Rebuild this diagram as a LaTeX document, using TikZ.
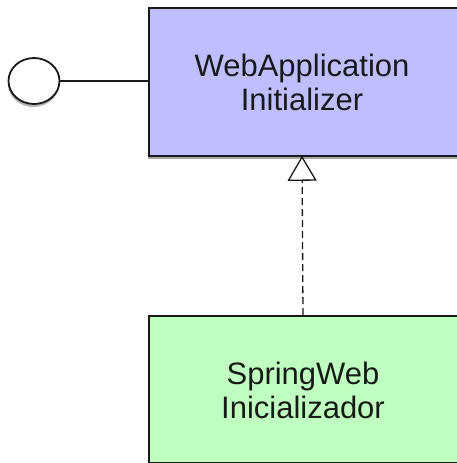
\documentclass[tikz,border=0pt]{standalone}
\usepackage{fontspec}
\setmainfont{Liberation Sans}
\usetikzlibrary{shadows,arrows.meta,shapes.geometric}
\definecolor{ifacefill}{RGB}{191,191,255}
\definecolor{implfill}{RGB}{191,255,191}
\definecolor{inkline}{RGB}{25,25,25}
\begin{document}
\begin{tikzpicture}[x=1pt,y=-1pt,
  classbox/.style={draw=inkline, line width=1.8pt, rectangle, inner sep=0pt,
    drop shadow={shadow xshift=-0.5pt, shadow yshift=-3pt, opacity=0.35, fill=black}},
  classname/.style={font=\fontsize{31}{34}\selectfont, align=center, text=inkline, inner sep=0pt},
  lollipop/.style={draw=inkline, line width=1.8pt, ellipse, fill=white, inner sep=0pt,
    minimum width=51pt, minimum height=46pt,
    drop shadow={shadow xshift=-0.5pt, shadow yshift=-3pt, opacity=0.3, fill=black}},
  realizes/.style={draw=inkline, line width=1.3pt, dash pattern=on 7pt off 4pt,
    -{Triangle[open, width=29pt, length=25pt, fill=white]}},
]
\useasboundingbox (0,0) rectangle (457,463);
\clip (0,0) rectangle (457,463);

% interface class
\node[classbox, fill=ifacefill, minimum width=330pt, minimum height=148pt, anchor=north west]
  (webbox) at (148,7) {};
\node[classname] (webtext) at (302,82) {WebApplication\\Initializer};

% provided-interface lollipop
\node[lollipop] (port) at (34,81) {};
\draw[draw=inkline, line width=1.3pt] (port.east) -- (port.east -| webbox.west);

% implementing class
\node[classbox, fill=implfill, minimum width=330pt, minimum height=147pt, anchor=north west]
  (spring) at (148,315) {};
\node[classname] (springtext) at (303,390) {SpringWeb\\Inicializador};

% realization arrow
\draw[realizes] (springtext |- spring.north) -- ([yshift=1pt]webtext |- webbox.south);
\end{tikzpicture}
\end{document}
